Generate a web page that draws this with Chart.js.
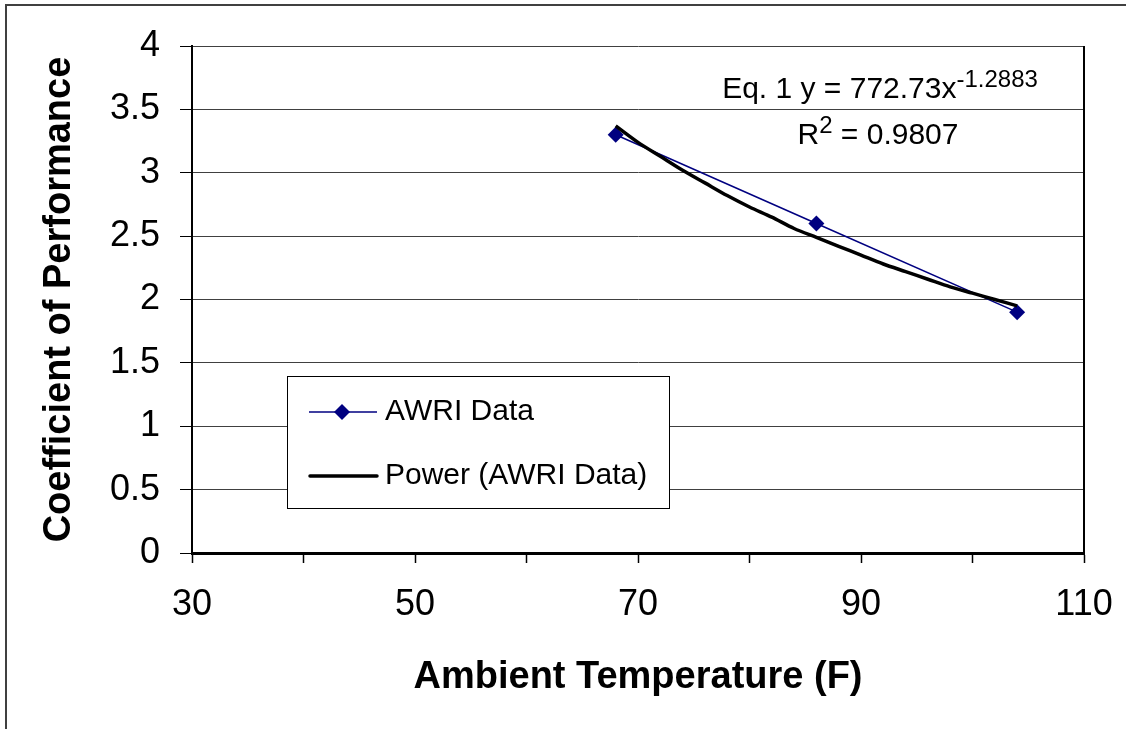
<!DOCTYPE html>
<html>
<head>
<meta charset="utf-8">
<script src="https://cdn.jsdelivr.net/npm/chart.js@4.4.1/dist/chart.umd.min.js"></script>
<style>
  html, body { margin: 0; padding: 0; background: #fff; overflow: hidden; }
  #wrap { position: relative; width: 1126px; height: 729px; }
</style>
</head>
<body>
<div id="wrap"><canvas id="copChart"></canvas></div>
<script>
const FONT = "'Liberation Sans', Arial, sans-serif";

/*************************************************
 * Data
 *************************************************/
const awriTemps = [68, 86, 104];
const awriCop = [3.3, 2.6, 1.9];

// power trendline
const trendTemps = [68, 70, 72, 74, 76, 78, 80, 82, 84, 86, 88, 90, 92, 94, 96, 98, 100, 102, 104];
const trendCop = [3.37, 3.24, 3.13, 3.02, 2.92, 2.82, 2.73, 2.65, 2.56, 2.49, 2.42, 2.35, 2.28, 2.22, 2.16, 2.10, 2.05, 2.00, 1.95];

const xLabelValues = [30, 50, 70, 90, 110];
const seriesNames = ["AWRI Data", "Power (AWRI Data)"];
const xTitle = "Ambient Temperature (F)";
const yTitle = "Coefficient of Performance";

/*************************************************
 * Extra drawing: frame, legend, equation
 *************************************************/
function drawRuns(ctx, runs, cx, baseY) {
    let total = 0;
    runs.forEach(r => {
        ctx.font = (r.sup ? "24px " : "30px ") + FONT;
        r.w = ctx.measureText(r.text).width;
        total += r.w;
    });
    let x = cx - total / 2;
    runs.forEach(r => {
        ctx.font = (r.sup ? "24px " : "30px ") + FONT;
        ctx.fillText(r.text, x, r.sup ? baseY - 11 : baseY);
        x += r.w;
    });
}

const decorations = {
    id: "decorations",
    afterDraw(chart) {
        const ctx = chart.ctx;
        const a = chart.chartArea;
        ctx.save();

        // right edge of the plot area
        ctx.strokeStyle = "#000";
        ctx.lineWidth = 2;
        ctx.beginPath();
        ctx.moveTo(a.right, a.top);
        ctx.lineTo(a.right, a.bottom);
        ctx.stroke();

        // outer frame, only top and left show
        ctx.strokeStyle = "#404040";
        ctx.lineWidth = 2;
        ctx.beginPath();
        ctx.moveTo(6, 729);
        ctx.lineTo(6, 5);
        ctx.lineTo(1126, 5);
        ctx.stroke();

        // legend box
        ctx.fillStyle = "#fff";
        ctx.fillRect(287, 376, 382, 132);
        ctx.strokeStyle = "#000";
        ctx.lineWidth = 1;
        ctx.strokeRect(287.5, 376.5, 382, 132);

        const ds = chart.data.datasets;
        // AWRI entry
        ctx.strokeStyle = ds[0].borderColor;
        ctx.lineWidth = 1.5;
        ctx.beginPath();
        ctx.moveTo(309, 412);
        ctx.lineTo(377, 412);
        ctx.stroke();
        ctx.fillStyle = ds[0].pointBackgroundColor;
        ctx.beginPath();
        ctx.moveTo(342, 404);
        ctx.lineTo(350, 412);
        ctx.lineTo(342, 420);
        ctx.lineTo(334, 412);
        ctx.closePath();
        ctx.fill();
        // trendline entry
        ctx.strokeStyle = ds[1].borderColor;
        ctx.lineWidth = 3.5;
        ctx.lineCap = "round";
        ctx.beginPath();
        ctx.moveTo(310, 476);
        ctx.lineTo(377, 476);
        ctx.stroke();

        ctx.fillStyle = "#000";
        ctx.font = "30px " + FONT;
        ctx.textBaseline = "middle";
        ctx.textAlign = "left";
        ctx.fillText(ds[0].label, 385, 412);
        ctx.fillText(ds[1].label, 385, 476);

        // trendline equation
        ctx.textBaseline = "alphabetic";
        drawRuns(ctx, [
            { text: "Eq. 1 y = 772.73x" },
            { text: "-1.2883", sup: true }
        ], 880, 98);
        drawRuns(ctx, [
            { text: "R" },
            { text: "2", sup: true },
            { text: " = 0.9807" }
        ], 878, 144);

        ctx.restore();
    }
};

/*************************************************
 * Chart
 *************************************************/
const ctx = document.getElementById("copChart");

new Chart(ctx, {
    type: "line",
    data: {
        datasets: [
            {
                label: seriesNames[0],
                data: awriTemps.map((t, i) => ({ x: t, y: awriCop[i] })),
                borderColor: "#000080",
                borderWidth: 1.5,
                pointStyle: "rectRot",
                pointRadius: 8,
                pointBackgroundColor: "#000080",
                pointBorderColor: "#000080",
                pointBorderWidth: 0,
                tension: 0,
                order: 1
            },
            {
                label: seriesNames[1],
                data: trendTemps.map((t, i) => ({ x: t, y: trendCop[i] })),
                borderColor: "#000",
                borderWidth: 3.5,
                pointRadius: 0,
                tension: 0.3,
                order: 0
            }
        ]
    },
    options: {
        responsive: true,
        maintainAspectRatio: false,
        animation: false,
        layout: { padding: { left: 0, right: 42, top: 46, bottom: 0 } },
        plugins: {
            legend: { display: false },
            tooltip: { enabled: false }
        },
        scales: {
            x: {
                type: "linear",
                min: 30,
                max: 110,
                afterFit(scale) {
                    scale.height = 176;
                    scale.paddingLeft = 0;
                    scale.paddingRight = 0;
                },
                ticks: {
                    stepSize: 10,
                    autoSkip: false,
                    maxRotation: 0,
                    padding: 20,
                    color: "#000",
                    font: { family: FONT, size: 36 },
                    callback: v => xLabelValues.includes(v) ? String(v) : ""
                },
                grid: {
                    drawOnChartArea: false,
                    drawTicks: true,
                    tickLength: 10,
                    tickColor: "#000",
                    tickWidth: 1.5
                },
                border: { display: true, color: "#000", width: 3 },
                title: {
                    display: true,
                    text: xTitle,
                    color: "#000",
                    font: { family: FONT, size: 38, weight: "bold" },
                    padding: { top: 0, bottom: 29 }
                }
            },
            y: {
                min: 0,
                max: 4,
                afterFit(scale) {
                    scale.width = 192;
                    scale.paddingTop = 0;
                    scale.paddingBottom = 0;
                },
                ticks: {
                    stepSize: 0.5,
                    padding: 20,
                    color: "#000",
                    font: { family: FONT, size: 36 },
                    callback: v => String(v)
                },
                grid: {
                    color: "#404040",
                    lineWidth: 1,
                    tickLength: 12,
                    tickColor: "#000"
                },
                border: { display: true, color: "#000", width: 2 },
                title: {
                    display: true,
                    text: yTitle,
                    color: "#000",
                    font: { family: FONT, size: 38, weight: "bold" },
                    padding: { top: 37, bottom: 0 }
                }
            }
        }
    },
    plugins: [decorations]
});
</script>
</body>
</html>
